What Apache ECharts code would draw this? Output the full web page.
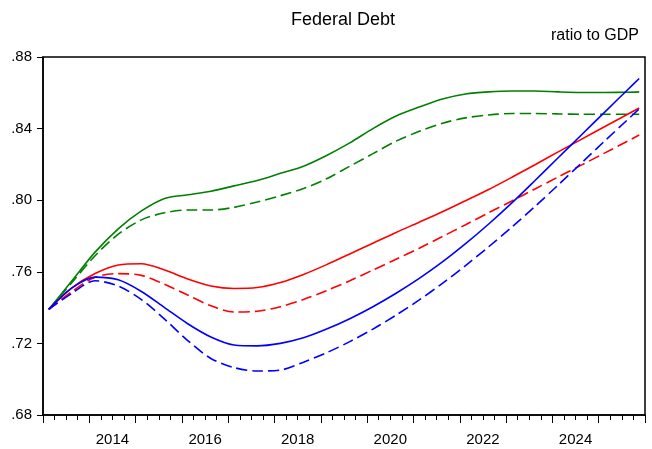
<!DOCTYPE html>
<html>
<head>
<meta charset="utf-8">
<script src="https://cdn.jsdelivr.net/npm/echarts@6/dist/echarts.min.js"></script>
<style>
  html, body { margin: 0; padding: 0; background: #fff; }
  #chart { width: 652px; height: 449px; }
</style>
</head>
<body>
<div id="chart"></div>
<script>
// half-year observation dates (fractional years), last is 2025Q4
let dates = [2013.125, 2013.625, 2014.125, 2014.625, 2015.125, 2015.625, 2016.125, 2016.625,
    2017.125, 2017.625, 2018.125, 2018.625, 2019.125, 2019.625, 2020.125, 2020.625,
    2021.125, 2021.625, 2022.125, 2022.625, 2023.125, 2023.625, 2024.125, 2024.625,
    2025.125, 2025.625, 2025.875];

let greenSolid = [.739, .755, .771, .784, .794, .801, .803, .805, .808, .811, .815, .819, .825, .832,
    .840, .847, .852, .8565, .8593, .8605, .861, .861, .8605, .8602, .8602, .8603, .8605];
let greenDash = [.739, .754, .769, .781, .789, .793, .7945, .7945, .796, .799, .8025, .8065, .812, .819,
    .826, .833, .8385, .843, .846, .8476, .8484, .8484, .8482, .848, .848, .848, .848];
let redSolid = [.739, .751, .759, .7638, .7645, .761, .756, .7521, .7507, .7512, .754, .7585, .764, .770,
    .776, .782, .7877, .7935, .7997, .806, .8128, .8198, .827, .834, .841, .848, .8515];
let redDash = [.739, .749, .757, .759, .758, .753, .747, .741, .7375, .738, .7405, .7445, .7495, .755,
    .761, .767, .7732, .7797, .7863, .793, .7996, .8063, .813, .8196, .8263, .833, .8364];
let blueSolid = [.739, .751, .757, .7555, .749, .740, .731, .7236, .7191, .7186, .720, .7231, .728, .7338,
    .7405, .748, .7563, .7655, .7757, .7867, .7985, .811, .8237, .8364, .8491, .8617, .868];
let blueDash = [.739, .748, .755, .752, .7445, .7336, .7216, .7116, .7065, .7046, .7051, .7095, .7148, .721,
    .728, .7358, .7443, .7535, .7635, .774, .785, .7965, .8085, .8207, .833, .845, .851];

let yTicks = [.68, .72, .76, .80, .84, .88];

function pairs(vals) {
    return dates.map(function (d, i) { return [d, vals[i]]; });
}

function line(id, color, vals, dashed) {
    return {
        id: id,
        type: 'line',
        xAxisIndex: 0,
        data: pairs(vals),
        smooth: 0.3,
        symbol: 'none',
        lineStyle: { color: color, width: 1.6, type: dashed ? [11, 5] : 'solid' }
    };
}

let chart = echarts.init(document.getElementById('chart'), null, { renderer: 'canvas' });
let font = 'Liberation Sans, Arial, sans-serif';

let option = {
    backgroundColor: '#fff',
    animation: false,
    textStyle: { fontFamily: font },
    title: [
        { text: 'Federal Debt', left: 338, top: 6, textAlign: 'center',
          textStyle: { fontSize: 18, fontWeight: 'normal', color: '#000', fontFamily: font } },
        { text: 'ratio to GDP', right: 8, top: 23,
          textStyle: { fontSize: 16, fontWeight: 'normal', color: '#000', fontFamily: font } }
    ],
    grid: {
        left: 43, right: 7, top: 57, bottom: 34,
        show: true, borderColor: '#000', borderWidth: 1.5
    },
    xAxis: [
        {
            type: 'value', min: 2013, max: 2026, interval: 1,
            axisLine: { show: true, lineStyle: { color: '#000', width: 1.5 } },
            axisTick: { show: true, length: 8, lineStyle: { color: '#000' } },
            minorTick: { show: true, splitNumber: 4, length: 5, lineStyle: { color: '#000' } },
            axisLabel: { show: false },
            splitLine: { show: false }
        },
        {
            // label-only axis: year names sit in the middle of each year
            type: 'value', min: 2013, max: 2026, interval: 0.5, position: 'bottom',
            axisLine: { show: false },
            axisTick: { show: false },
            splitLine: { show: false },
            axisLabel: {
                margin: 17, fontSize: 15, color: '#000', fontFamily: font,
                formatter: function (v) {
                    let h = Math.round(v * 2);
                    if (h % 2 !== 1) return '';
                    let yr = (h - 1) / 2;
                    return yr % 2 === 0 ? String(yr) : '';
                }
            }
        }
    ],
    yAxis: {
        type: 'value', min: yTicks[0], max: yTicks[yTicks.length - 1], interval: 0.04,
        axisLine: { show: true, lineStyle: { color: '#000', width: 1.5 } },
        axisTick: { show: true, length: 6, lineStyle: { color: '#000' } },
        splitLine: { show: false },
        axisLabel: {
            margin: 11, fontSize: 15, color: '#000', fontFamily: font,
            formatter: function (v) { return v.toFixed(2).replace(/^0/, ''); }
        }
    },
    series: [
        line('gs', '#008000', greenSolid, false),
        line('gd', '#008000', greenDash, true),
        line('rs', '#ff0000', redSolid, false),
        line('rd', '#ff0000', redDash, true),
        line('bs', '#0000ff', blueSolid, false),
        line('bd', '#0000ff', blueDash, true)
    ]
};
option && chart.setOption(option);
</script>
</body>
</html>
